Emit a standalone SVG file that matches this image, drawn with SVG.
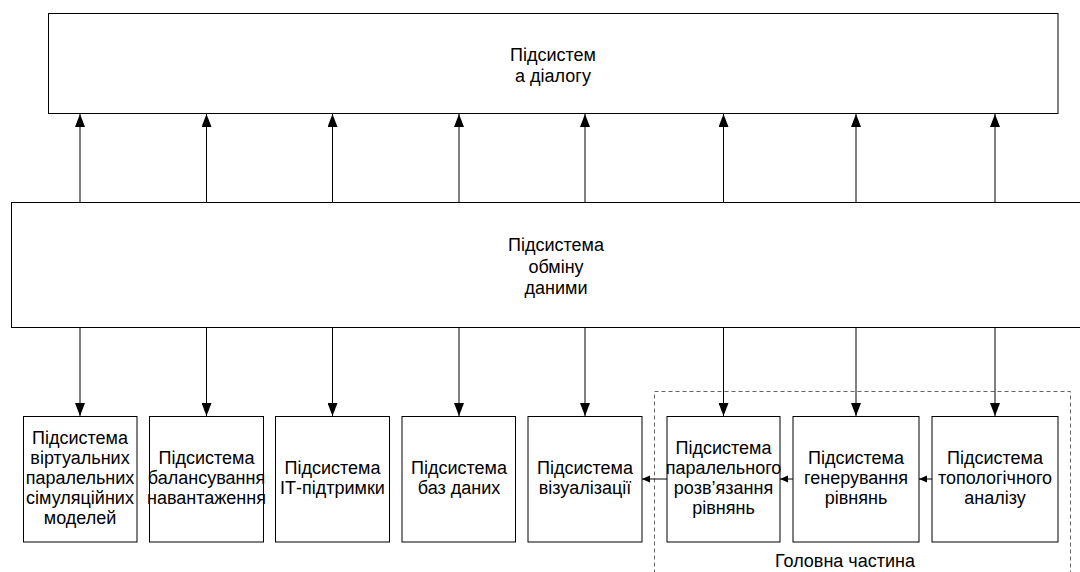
<svg xmlns="http://www.w3.org/2000/svg" width="1080" height="572" viewBox="0 0 1080 572">
<style>
.box{fill:#fff;stroke:#000;stroke-width:1}
.t{font-family:"Liberation Sans",Arial,sans-serif;font-size:18px;fill:#000;text-anchor:middle}
.c{stroke:#000;stroke-width:1;fill:none}
.dash{fill:none;stroke:#666;stroke-width:1;stroke-dasharray:4 3}
</style>
<defs>
<marker id="big" markerUnits="userSpaceOnUse" markerWidth="14" markerHeight="10" refX="13" refY="5" orient="auto">
<path d="M0,0 L13,5 L0,10 Z" fill="#000"/>
</marker>
<marker id="small" markerUnits="userSpaceOnUse" markerWidth="9" markerHeight="8" refX="8" refY="4" orient="auto">
<path d="M0,0.5 L8,4 L0,7.5 Z" fill="#000"/>
</marker>
</defs>
<rect width="1080" height="572" fill="#fff"/>
<rect class="dash" x="654.5" y="391.5" width="416" height="200"/>
<g id="dialog">
<rect class="box" x="48.5" y="13.5" width="1009.5" height="100"/>
<text class="t" x="553" y="61">Підсистем</text>
<text class="t" x="553" y="82">а діалогу</text>
</g>
<g id="exchange">
<rect class="box" x="11.5" y="202.5" width="1090" height="125"/>
<text class="t" x="556" y="251">Підсистема</text>
<text class="t" x="556" y="272.5">обміну</text>
<text class="t" x="556" y="294">даними</text>
</g>
<g id="virtual">
<rect class="box" x="23.5" y="416.5" width="113.5" height="125.5"/>
<text class="t" x="80" y="444">Підсистема</text>
<text class="t" x="80" y="464">віртуальних</text>
<text class="t" x="80" y="484">паралельних</text>
<text class="t" x="80" y="504">сімуляційних</text>
<text class="t" x="80" y="524">моделей</text>
</g>
<g id="balance">
<rect class="box" x="149.5" y="416.5" width="114" height="125.5"/>
<text class="t" x="206.5" y="464">Підсистема</text>
<text class="t" x="206.5" y="484">балансування</text>
<text class="t" x="206.5" y="504">навантаження</text>
</g>
<g id="it">
<rect class="box" x="275.5" y="416.5" width="114" height="125.5"/>
<text class="t" x="332.5" y="474">Підсистема</text>
<text class="t" x="332.5" y="494">ІТ-підтримки</text>
</g>
<g id="db">
<rect class="box" x="402" y="416.5" width="113.5" height="125.5"/>
<text class="t" x="459" y="474">Підсистема</text>
<text class="t" x="459" y="494">баз даних</text>
</g>
<g id="vis">
<rect class="box" x="528" y="416.5" width="114" height="125.5"/>
<text class="t" x="585" y="474">Підсистема</text>
<text class="t" x="585" y="494">візуалізації</text>
</g>
<g id="parallel">
<rect class="box" x="667" y="416.5" width="113" height="125.5"/>
<text class="t" x="723.5" y="454">Підсистема</text>
<text class="t" x="723.5" y="474">паралельного</text>
<text class="t" x="723.5" y="494">розв’язання</text>
<text class="t" x="723.5" y="514">рівнянь</text>
</g>
<g id="generate">
<rect class="box" x="793" y="416.5" width="126" height="125.5"/>
<text class="t" x="856" y="464">Підсистема</text>
<text class="t" x="856" y="484">генерування</text>
<text class="t" x="856" y="504">рівнянь</text>
</g>
<g id="topology">
<rect class="box" x="932" y="416.5" width="126" height="125.5"/>
<text class="t" x="995" y="464">Підсистема</text>
<text class="t" x="995" y="484">топологічного</text>
<text class="t" x="995" y="504">аналізу</text>
</g>
<text class="t" x="845" y="567">Головна частина</text>
<g id="connectors">
<path class="c" marker-end="url(#big)" d="M80,202 V114"/>
<path class="c" marker-end="url(#big)" d="M206.5,202 V114"/>
<path class="c" marker-end="url(#big)" d="M332.5,202 V114"/>
<path class="c" marker-end="url(#big)" d="M459,202 V114"/>
<path class="c" marker-end="url(#big)" d="M585,202 V114"/>
<path class="c" marker-end="url(#big)" d="M723.5,202 V114"/>
<path class="c" marker-end="url(#big)" d="M856,202 V114"/>
<path class="c" marker-end="url(#big)" d="M995,202 V114"/>
<path class="c" marker-end="url(#big)" d="M80,328 V416"/>
<path class="c" marker-end="url(#big)" d="M206.5,328 V416"/>
<path class="c" marker-end="url(#big)" d="M332.5,328 V416"/>
<path class="c" marker-end="url(#big)" d="M459,328 V416"/>
<path class="c" marker-end="url(#big)" d="M585,328 V416"/>
<path class="c" marker-end="url(#big)" d="M723.5,328 V416"/>
<path class="c" marker-end="url(#big)" d="M856,328 V416"/>
<path class="c" marker-end="url(#big)" d="M995,328 V416"/>
<path class="c" marker-end="url(#small)" d="M667,479 H642"/>
<path class="c" marker-end="url(#small)" d="M793,479 H780"/>
<path class="c" marker-end="url(#small)" d="M932,479 H919"/>
</g>
</svg>
